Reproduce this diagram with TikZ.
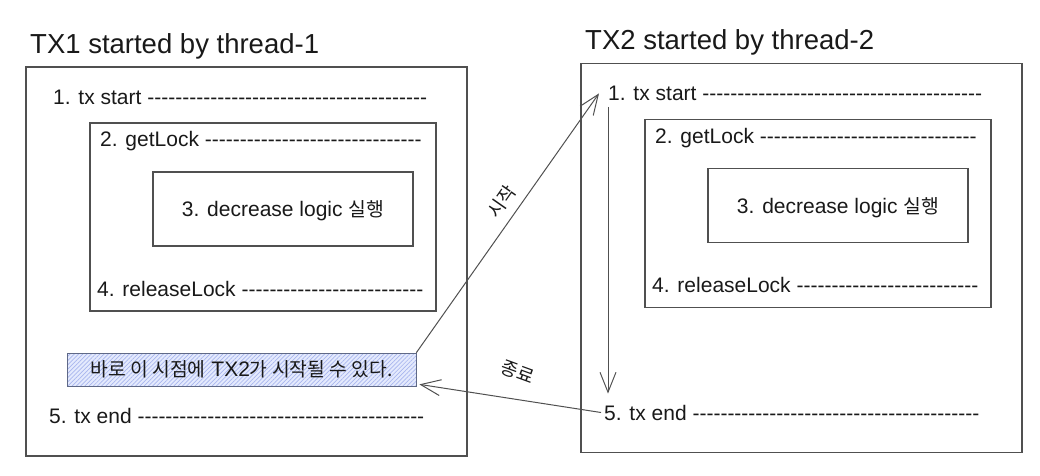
\documentclass[tikz,border=0pt]{standalone}
\usepackage{fontspec}
\setmainfont{Liberation Sans}[Ligatures=TeXOff]
\newfontfamily\krfont[Scale=0.92]{Noto Sans CJK KR}
\newcommand{\kr}[1]{{\krfont #1}}
\usetikzlibrary{arrows.meta, patterns.meta}
\definecolor{boxline}{RGB}{80,80,80}
\definecolor{textcol}{RGB}{25,25,25}
\definecolor{notefill}{RGB}{228,234,253}
\definecolor{notehatch}{RGB}{168,182,238}
\definecolor{noteline}{RGB}{95,105,135}

\begin{document}
\begin{tikzpicture}[x=1pt, y=-1pt,
    frame/.style={draw=boxline, line width=1.1pt},
    title/.style={inner sep=0pt, anchor=base west, text=textcol, font=\fontsize{27.5}{32}\selectfont},
    item/.style={inner sep=0pt, anchor=base west, text=textcol, font=\fontsize{21}{25}\selectfont},
    arr/.style={draw=boxline, line width=1pt, -{Straight Barb[length=20pt, width=16pt]}},
    lbl/.style={inner sep=0pt, text=textcol, font=\fontsize{20}{23}\selectfont},
    note/.style={draw=noteline, line width=1pt, preaction={fill=notefill},
        pattern={Lines[angle=45, distance=3pt, line width=0.7pt]}, pattern color=notehatch,
        minimum width=349pt, minimum height=33pt, inner sep=0pt, text=textcol,
        font=\fontsize{21}{25}\selectfont}]
    \useasboundingbox (0,0) rectangle (1040,475);

    % One block per transaction, TX2 shifted to the right
    \foreach \txno/\dx/\dy in {1/0/0, 2/555/-3.5} {
      \begin{scope}[shift={(\dx,\dy)}]
        \draw[frame] (26,67) rectangle (467,456);
        \draw[frame] (90,123) rectangle (436,311);
        \draw[frame] (153,172) rectangle (413,246);
        \node[title] (title\txno) at (30,53) {TX\txno\ started by thread-\txno};
        \node[item] (start\txno) at (53,104) {1. tx start ----------------------------------------};
        \node[item] (lock\txno) at (100,146.5) {2. getLock -------------------------------};
        \node[item, anchor=base] (logic\txno) at (283,216.5) {3. decrease logic \kr{실행}};
        \node[item] (release\txno) at (97,296) {4. releaseLock --------------------------};
        \node[item] (end\txno) at (49,423.5) {5. tx end -----------------------------------------};
      \end{scope}
    }

    % The moment TX2 may start
    \node[note] (note) at (241.5,369.5) {\kr{바로 이 시점에} TX2\kr{가 시작될 수 있다.}};

    \draw[arr] (note.north east) -- ([xshift=-9pt]start2.west)
        node[lbl, pos=0.545, xshift=-14pt, yshift=10pt, rotate=55] {\kr{시작}};
    \draw[arr, shorten <=6pt, shorten >=11pt] (start2.south west) -- (start2.south west |- end2.north);
    \draw[arr] ([xshift=-3pt]end2.west) -- ([xshift=3pt, yshift=2pt]note.south east)
        node[lbl, pos=0.48, xshift=4pt, yshift=27pt, rotate=-20] {\kr{종료}};
\end{tikzpicture}
\end{document}
